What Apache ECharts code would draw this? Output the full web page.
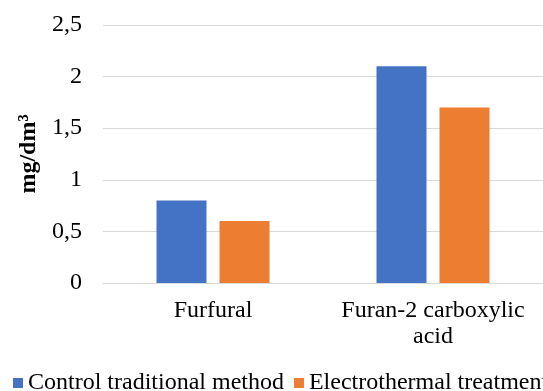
<!DOCTYPE html>
<html><head><meta charset="utf-8">
<script src="https://cdn.jsdelivr.net/npm/echarts@6/dist/echarts.min.js"></script>
<style>html,body{margin:0;padding:0;background:#fff}#c{width:543px;height:391px}</style>
</head><body><div id="c"></div>
<script>
const categories = ['Furfural', 'Furan-2 carboxylic\nacid'];
const seriesNames = ['Control traditional method', 'Electrothermal treatment'];
const controlValues = [0.8, 2.1];
const electroValues = [0.6, 1.7];
const yTicks = [0, 0.5, 1, 1.5, 2, 2.5];
const FONT = '"Liberation Serif", "Times New Roman", serif';
const FS = 24;
const chart = echarts.init(document.getElementById('c'), null, {renderer: 'canvas'});
chart.setOption({
  animation: false,
  textStyle: {fontFamily: FONT},
  grid: {left: 103, right: -5, top: 25, bottom: 108, containLabel: false},
  legend: {
    left: 13, top: 371, width: 1200, itemWidth: 10, itemHeight: 10, itemGap: 10,
    icon: 'rect', padding: 0,
    textStyle: {fontFamily: FONT, fontSize: FS, color: '#000'},
    data: seriesNames
  },
  xAxis: {
    type: 'category', data: categories,
    axisLine: {show: true, lineStyle: {color: '#d9d9d9'}},
    axisTick: {show: false},
    axisLabel: {fontFamily: FONT, fontSize: FS, color: '#000', margin: 15, lineHeight: 26, interval: 0}
  },
  yAxis: {
    type: 'value', min: 0, max: 2.5, interval: 0.5,
    name: 'mg/dm³', nameLocation: 'middle', nameGap: 56, nameRotate: 90,
    nameTextStyle: {fontFamily: FONT, fontSize: FS, fontWeight: 'bold', color: '#000'},
    axisLine: {show: false}, axisTick: {show: false},
    splitLine: {lineStyle: {color: '#d9d9d9', width: 1}},
    axisLabel: {fontFamily: FONT, fontSize: FS, color: '#000', margin: 21,
      formatter: v => { const t = yTicks.find(x => Math.abs(x - v) < 1e-9); return String(t !== undefined ? t : v).replace('.', ','); }}
  },
  series: [
    {name: seriesNames[0], type: 'bar', data: controlValues, itemStyle: {color: '#4472C4'}, barWidth: 50, barGap: '26%'},
    {name: seriesNames[1], type: 'bar', data: electroValues, itemStyle: {color: '#ED7D31'}, barWidth: 50, barGap: '26%'}
  ]
});
</script></body></html>
